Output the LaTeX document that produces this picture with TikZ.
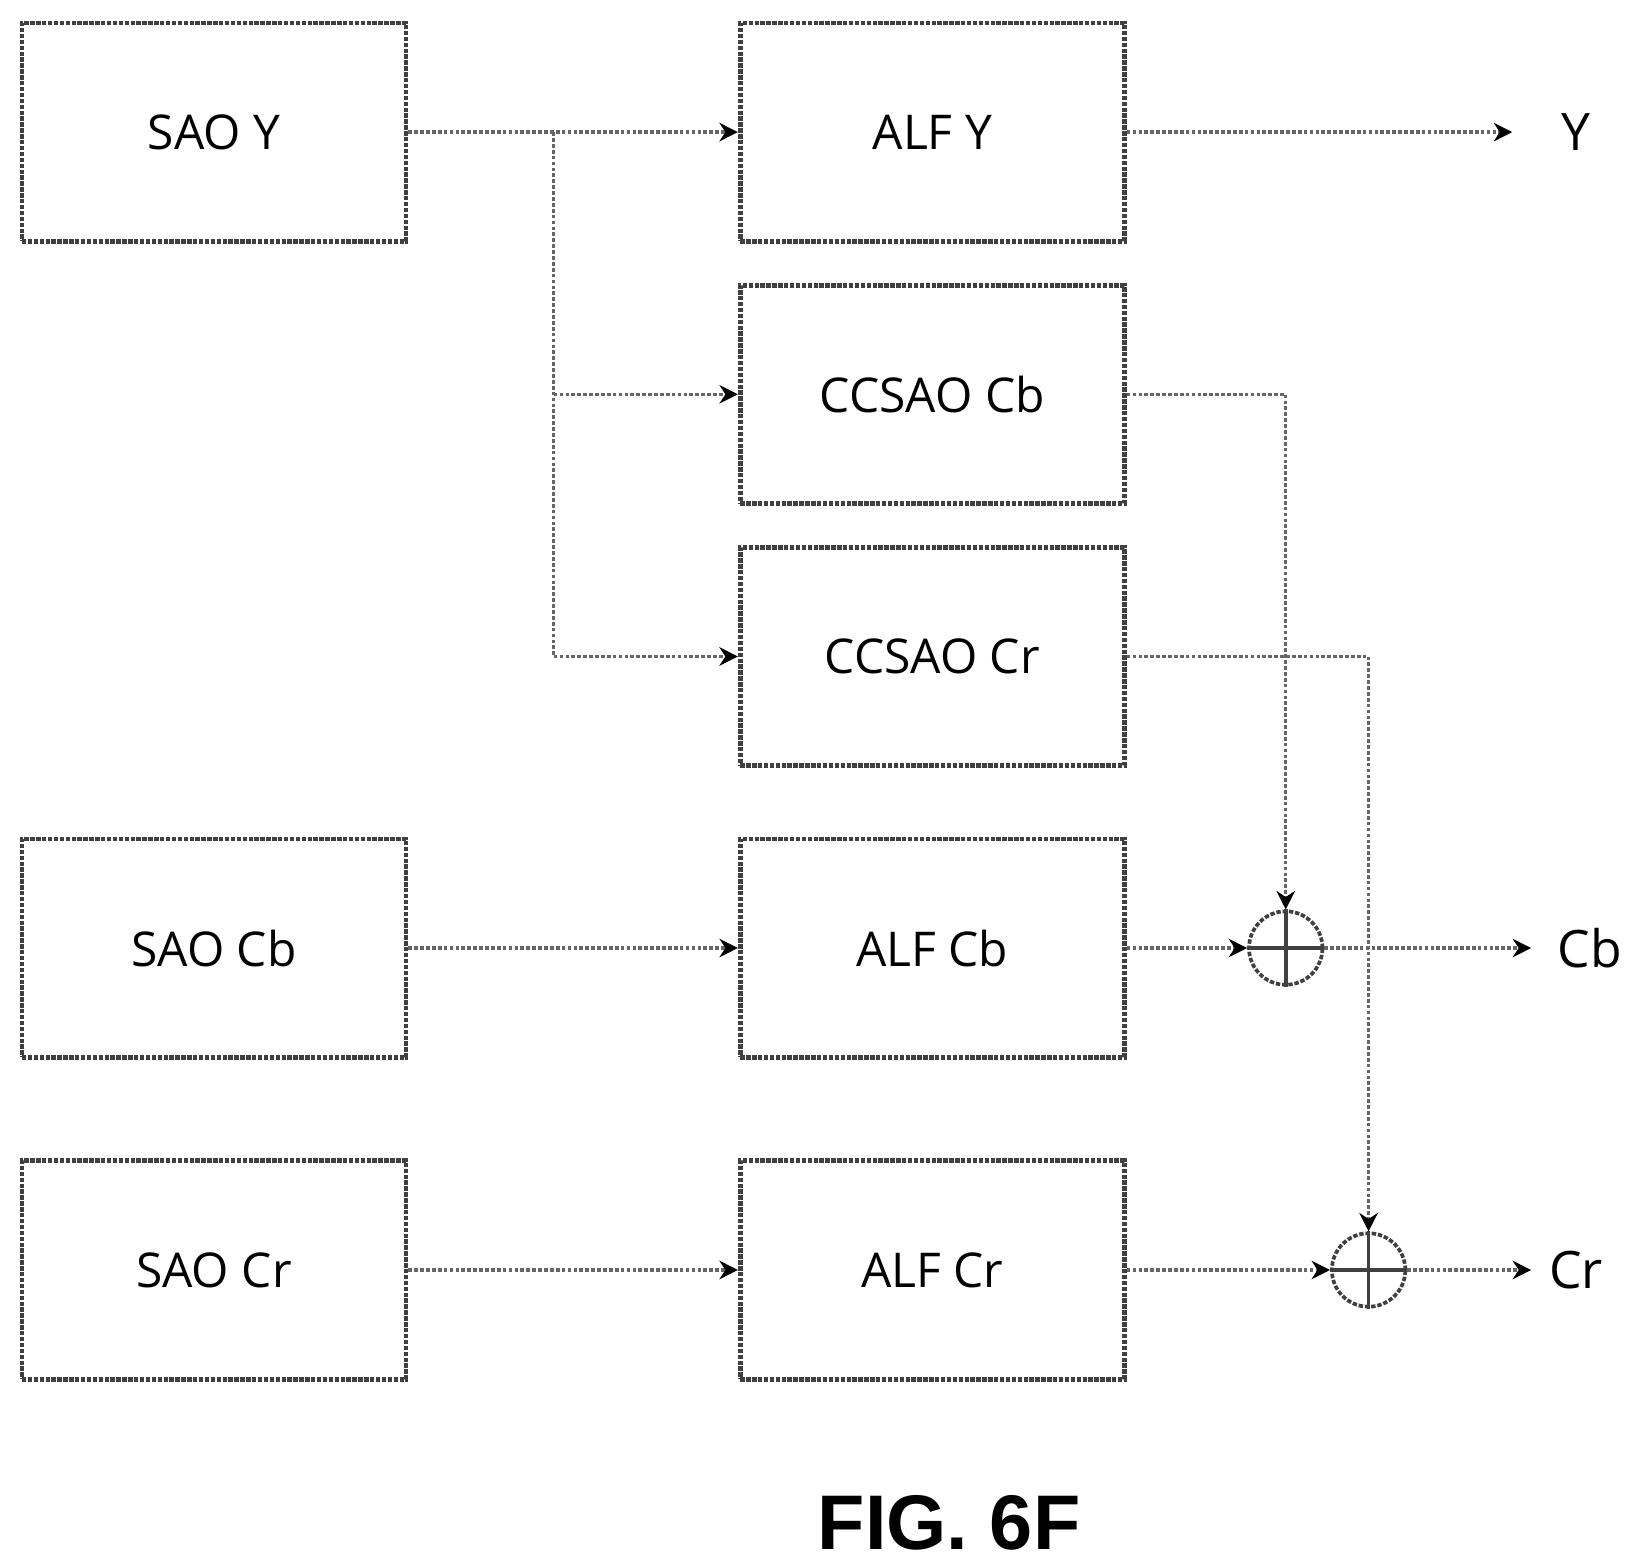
\documentclass[tikz,border=0pt]{standalone}
\usepackage{fontspec}
\setmainfont{Open Sans}
\newfontfamily\figfont{Liberation Sans}
\usetikzlibrary{arrows.meta}
\begin{document}
\begin{tikzpicture}[x=0.01cm,y=-0.01cm,
  box/.style={draw=black!75,line width=1.3pt,dash pattern=on 1.2pt off 0.4pt,minimum width=3.66cm,minimum height=2.08cm,font=\fontsize{13}{16}\selectfont},
  wire/.style={draw=black!60,line width=0.9pt,dash pattern=on 1pt off 0.6pt},
  arr/.style={wire,-{Stealth[length=5pt,width=5pt,black]}},
  sum/.style={circle,draw=black!75,line width=1pt,dash pattern=on 1.2pt off 0.5pt,minimum size=0.7cm,inner sep=0pt},
  lab/.style={font=\fontsize{14}{17}\selectfont}]
\useasboundingbox (0,0) rectangle (1560,1495);
\node[box] (saoy) at (204,126) {SAO Y};
\node[box] (alfy) at (889,126) {ALF Y};
\node[box] (ccb) at (889,376) {CCSAO Cb};
\node[box] (ccr) at (889,626) {CCSAO Cr};
\node[box] (saocb) at (204,904) {SAO Cb};
\node[box] (alfcb) at (889,904) {ALF Cb};
\node[box] (saocr) at (204,1211) {SAO Cr};
\node[box] (alfcr) at (889,1211) {ALF Cr};
\node[sum] (s1) at (1226,904) {};
\node[sum] (s2) at (1305,1211) {};
\draw[black!75,line width=1pt] (s1.north)--(s1.south) (s1.west)--(s1.east);
\draw[black!75,line width=1pt] (s2.north)--(s2.south) (s2.west)--(s2.east);
\node[lab] (y) at (1503,126) {Y};
\node[lab] (cb) at (1516,904) {Cb};
\node[lab] (cr) at (1503,1211) {Cr};
\coordinate (j1) at (528,126);
\coordinate (j2) at (528,376);
\coordinate (j3) at (528,626);
\coordinate (yend) at (1442,126);
\coordinate (cbend) at (1460,904);
\coordinate (crend) at (1460,1211);
\draw[arr] (saoy.east) -- (alfy.west);
\draw[wire] (j1) -- (j3);
\draw[arr] (j2) -- (ccb.west);
\draw[arr] (j3) -- (ccr.west);
\draw[arr] (alfy.east) -- (yend);
\draw[arr] (ccb.east) -| (s1.north);
\draw[arr] (ccr.east) -| (s2.north);
\draw[arr] (saocb.east) -- (alfcb.west);
\draw[arr] (saocr.east) -- (alfcr.west);
\draw[arr] (alfcb.east) -- (s1.west);
\draw[arr] (alfcr.east) -- (s2.west);
\draw[arr] (s1.east) -- (cbend);
\draw[arr] (s2.east) -- (crend);
\node[font=\figfont\bfseries\fontsize{21}{25}\selectfont] (fig) at (905,1452) {FIG. 6F};
\end{tikzpicture}
\end{document}
